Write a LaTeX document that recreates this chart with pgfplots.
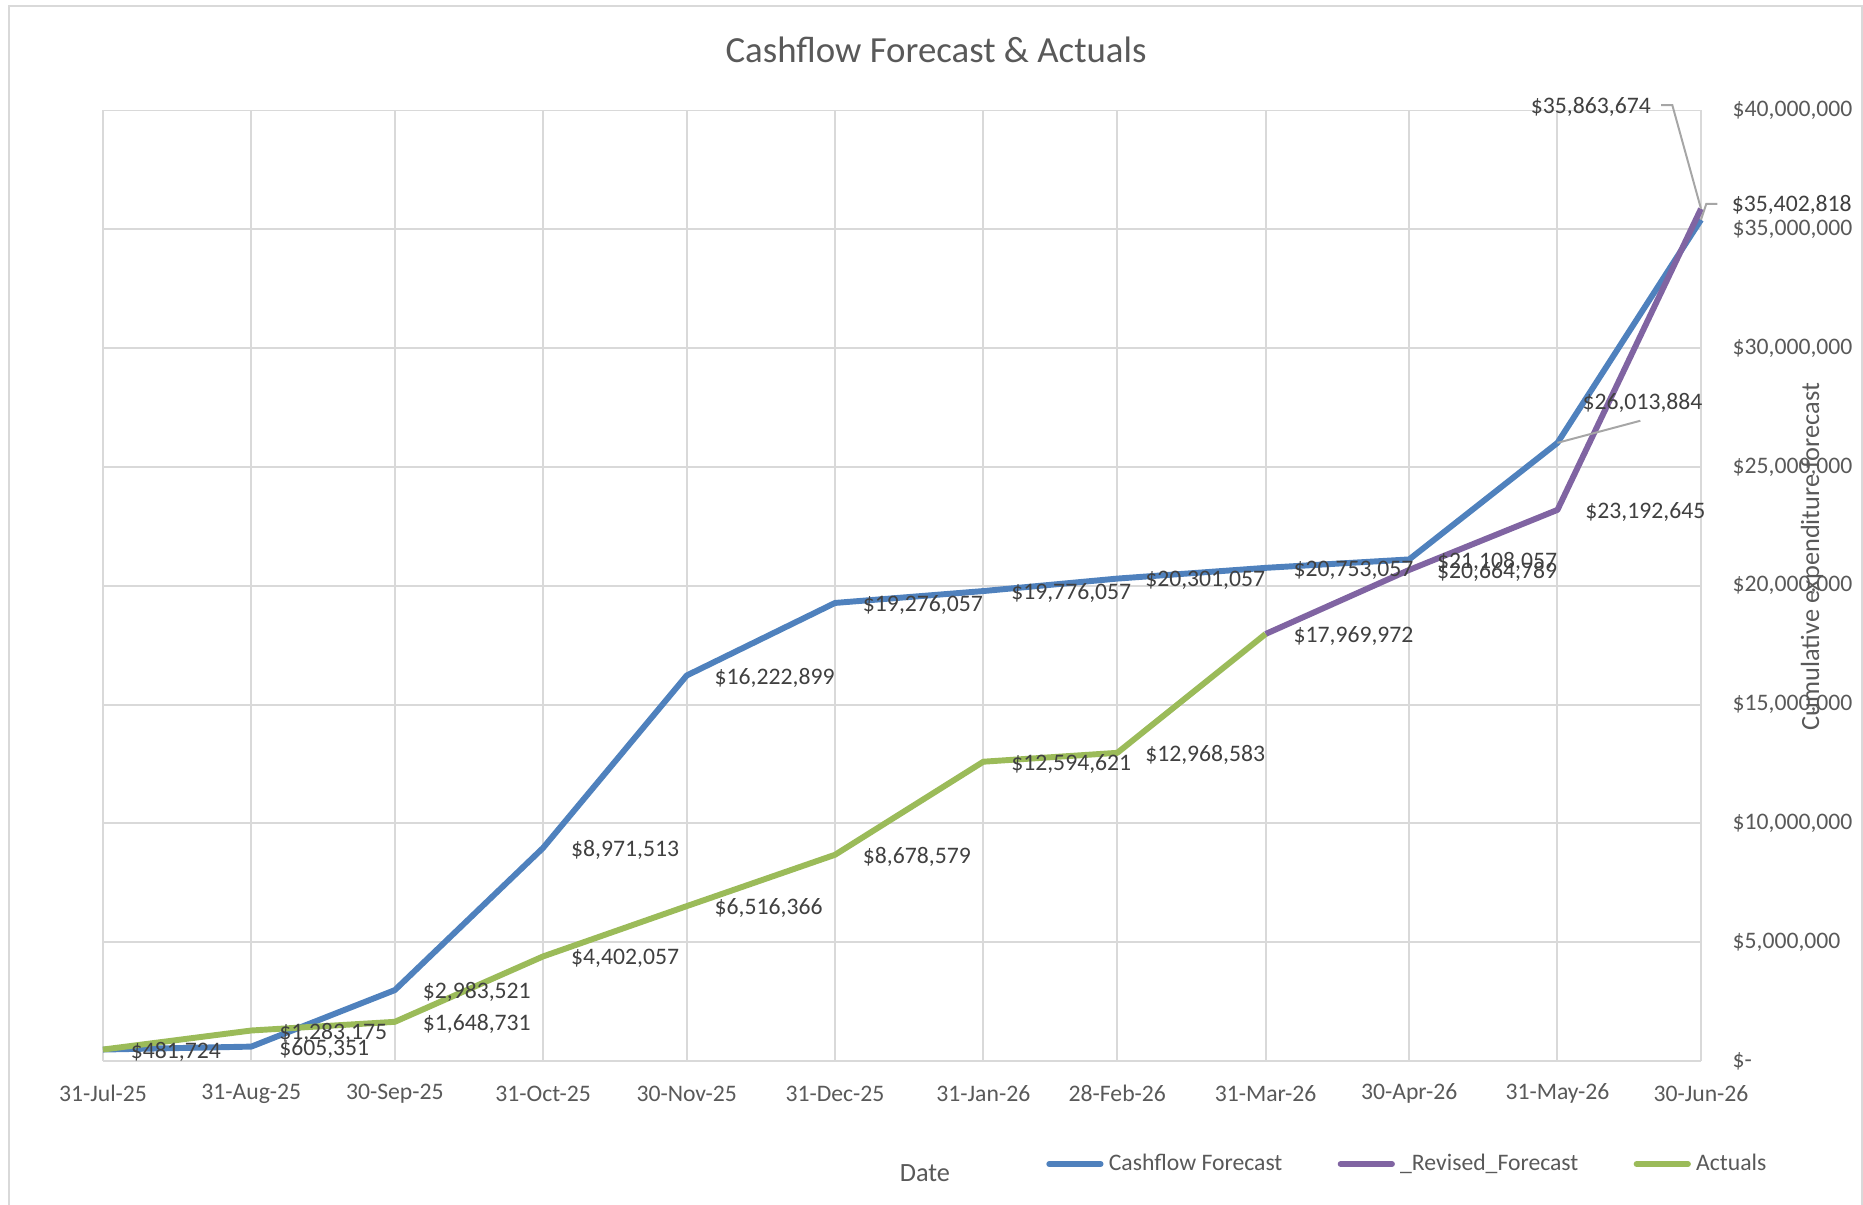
\documentclass[border=0pt]{standalone}
\usepackage{fontspec}
\setmainfont{Carlito}
\usepackage{pgfplots}
\usepackage{pgfplotstable}
\pgfplotsset{compat=1.18}
\definecolor{cfblue}{HTML}{4F81BD}
\definecolor{cfpurple}{HTML}{8064A2}
\definecolor{cfgreen}{HTML}{9BBB59}
\definecolor{gridc}{HTML}{D9D9D9}
\definecolor{txt}{HTML}{595959}
\definecolor{lab}{HTML}{404040}
\definecolor{leader}{HTML}{A6A6A6}

\pgfplotstableread{
x y label
0 481724 {\$481,724}
31 605351 {\$605,351}
61 2983521 {\$2,983,521}
92 8971513 {\$8,971,513}
122 16222899 {\$16,222,899}
153 19276057 {\$19,276,057}
184 19776057 {\$19,776,057}
212 20301057 {\$20,301,057}
243 20753057 {\$20,753,057}
273 21108057 {\$21,108,057}
304 26013884 {}
334 35402818 {}
}\forecast

\pgfplotstableread{
x y label
243 17969972 {}
273 20664789 {\$20,664,789}
304 23192645 {\$23,192,645}
334 35863674 {}
}\revised

\pgfplotstableread{
x y label
0 481724 {}
31 1283175 {\$1,283,175}
61 1648731 {\$1,648,731}
92 4402057 {\$4,402,057}
122 6516366 {\$6,516,366}
153 8678579 {\$8,678,579}
184 12594621 {\$12,594,621}
212 12968583 {\$12,968,583}
243 17969972 {\$17,969,972}
}\actuals

\begin{document}
\begin{tikzpicture}
\useasboundingbox (0,0) rectangle (707.94pt,457.9pt);
\draw[gridc, line width=0.75pt] (3.42pt,-3pt) -- (3.42pt,455.6pt) -- (707.56pt,455.6pt) -- (707.56pt,-3pt);
\begin{axis}[
  at={(39.14pt,54.72pt)}, anchor=south west,
  scale only axis, width=607.24pt, height=361.19pt,
  xmin=0, xmax=334, ymin=0, ymax=40000000,
  xtick={0,31,61,92,122,153,184,212,243,273,304,334},
  xticklabels={31-Jul-25,31-Aug-25,30-Sep-25,31-Oct-25,30-Nov-25,31-Dec-25,31-Jan-26,28-Feb-26,31-Mar-26,30-Apr-26,31-May-26,30-Jun-26},
  ytick={0,5000000,10000000,15000000,20000000,25000000,30000000,35000000,40000000},
  yticklabels={{\$-},{\$5,000,000},{\$10,000,000},{\$15,000,000},{\$20,000,000},{\$25,000,000},{\$30,000,000},{\$35,000,000},{\$40,000,000}},
  yticklabel pos=right,
  scaled y ticks=false,
  grid=major,
  major grid style={gridc, line width=0.75pt},
  axis line style={draw=none},
  major tick length=0pt,
  tick style={draw=none},
  ticklabel style={font=\fontsize{9}{11}\selectfont, text=txt},
  yticklabel style={anchor=west, inner sep=0pt, xshift=11.8pt},
  xticklabel style={anchor=center, inner sep=0pt, yshift=-12.4pt},
  clip=false,
  legend columns=3,
  legend style={at={(0.5903,-0.1084)}, anchor=west, draw=none, fill=none,
    inner sep=0pt, outer sep=0pt, font=\fontsize{9}{11}\selectfont, text=txt,
    /tikz/every even column/.append style={column sep=19pt},
    /tikz/every odd column/.append style={column sep=0pt}},
  legend image code/.code={\draw[#1, line width=2.25pt, line cap=round] (0pt,0pt) -- (19.5pt,0pt);},
  every axis plot/.append style={line width=2.25pt, line join=round, mark=none},
  nodes near coords style={anchor=west, inner sep=0pt, xshift=9.5pt, yshift=-0.8pt, font=\fontsize{9}{11}\selectfont, text=lab},
]
\addplot[cfblue] table[x=x, y=y] {\forecast};
\addlegendentry{Cashflow Forecast}
\addplot[cfpurple] table[x=x, y=y] {\revised};
\addlegendentry{\_Revised\_Forecast}
\addplot[cfgreen] table[x=x, y=y] {\actuals};
\addlegendentry{Actuals}

\addplot[draw=none, forget plot, nodes near coords, point meta=explicit symbolic] table[x=x, y=y, meta=label] {\forecast};
\addplot[draw=none, forget plot, nodes near coords, point meta=explicit symbolic] table[x=x, y=y, meta=label] {\revised};
\addplot[draw=none, forget plot, nodes near coords, point meta=explicit symbolic] table[x=x, y=y, meta=label] {\actuals};

\draw[leader, line width=0.75pt] (axis cs:304,26013884) -- ++(31.5pt,8.4pt);
\node[anchor=center, inner sep=0pt, font=\fontsize{9}{11}\selectfont, text=lab] at ([shift={(32.3pt,15.1pt)}]axis cs:304,26013884) {\$26,013,884};
\draw[leader, line width=0.75pt] (axis cs:334,35863674) -- ++(-10.9pt,39.4pt) -- ++(-4.3pt,0pt);
\node[anchor=east, inner sep=0pt, font=\fontsize{9}{11}\selectfont, text=lab] at ([shift={(-18.9pt,38.8pt)}]axis cs:334,35863674) {\$35,863,674};
\draw[leader, line width=0.75pt] (axis cs:334,35402818) -- ++(2pt,6pt) -- ++(4.2pt,0pt);
\node[anchor=west, inner sep=0pt, font=\fontsize{9}{11}\selectfont, text=lab] at ([shift={(11.5pt,5.6pt)}]axis cs:334,35402818) {\$35,402,818};
\end{axis}
\node[font=\fontsize{14}{17}\selectfont, text=txt] at (355.7pt,438.9pt) {Cashflow Forecast \& Actuals};
\node[font=\fontsize{10}{12}\selectfont, text=txt] at (351.5pt,12.2pt) {Date};
\node[rotate=90, font=\fontsize{10}{12}\selectfont, text=txt] at (688.6pt,246.4pt) {Cumulative expenditure forecast};
\end{tikzpicture}
\end{document}
